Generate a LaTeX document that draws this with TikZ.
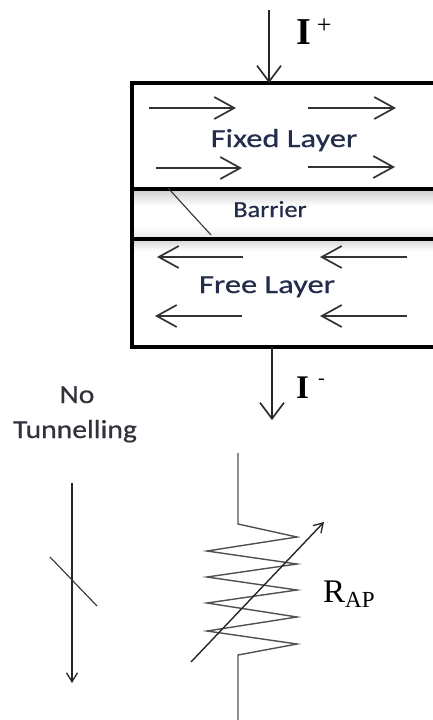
\documentclass[tikz,border=0pt]{standalone}
\usepackage{fontspec}
\setmainfont{Liberation Serif}
\newfontfamily\calfont[FakeStretch=1.25,FakeBold=0.6]{Carlito}
\newfontfamily\calfontb[FakeStretch=1.14,FakeBold=0.6]{Carlito}
\usetikzlibrary{arrows.meta}
\definecolor{layertext}{RGB}{35,45,75}
\definecolor{notext}{RGB}{50,50,60}
\definecolor{resgray}{RGB}{80,80,80}
\begin{document}
\begin{tikzpicture}[x=1pt,y=-1pt,
  boxline/.style={line width=4pt,draw=black},
  magarrow/.style={line width=1.7pt,draw=black!80,-{Straight Barb[length=20pt,width=22pt,line width=1.7pt]}},
  curarrow/.style={line width=1.6pt,draw=black!85,-{Straight Barb[length=16pt,width=24pt,line width=1.6pt]}},
  smallarrow/.style={line width=1.3pt,draw=black!85,-{Straight Barb[length=9pt,width=11pt,line width=1.3pt]}},
  thinline/.style={line width=1.1pt,draw=black!80},
  resline/.style={line width=1.4pt,draw=resgray,line join=miter},
  layerlabel/.style={font=\calfont\fontsize{26}{26}\selectfont,text=layertext,anchor=base,inner sep=0pt},
  barlabel/.style={font=\calfontb\fontsize{23}{23}\selectfont,text=layertext,anchor=base,inner sep=0pt},
  nolabel/.style={font=\calfontb\fontsize{26}{26}\selectfont,text=notext,anchor=base,inner sep=0pt},
  curlabel/.style={anchor=base west,inner sep=0pt,text=black}]
\useasboundingbox (0,0) rectangle (433,720);
\clip (0,0) rectangle (433,720);
% shading of the barrier and under the layer lines
\shade[top color=gray!40,bottom color=white] (132,189) rectangle (445,206);
\shade[top color=white,bottom color=gray!18] (132,226) rectangle (445,239);
\shade[top color=gray!35,bottom color=white] (132,239) rectangle (445,251);
% stack
\draw[boxline] (132,83) rectangle (445,347);
\draw[boxline] (132,189) -- (445,189);
\draw[boxline] (132,239) -- (445,239);
\draw[thinline] (168,188) -- (211,235);
% coordinates
\coordinate (ta) at (269,10);
\coordinate (tb) at (269,83);
\coordinate (ba) at (272,347);
\coordinate (bb) at (272,420);
\coordinate (f1a) at (149,108); \coordinate (f1b) at (236,108);
\coordinate (f2a) at (308,108); \coordinate (f2b) at (396,108);
\coordinate (f3a) at (156,168); \coordinate (f3b) at (242,168);
\coordinate (f4a) at (308,167); \coordinate (f4b) at (395,167);
\coordinate (r1a) at (243,257); \coordinate (r1b) at (157,257);
\coordinate (r2a) at (407,257); \coordinate (r2b) at (320,257);
\coordinate (r3a) at (242,316); \coordinate (r3b) at (155,316);
\coordinate (r4a) at (407,316); \coordinate (r4b) at (320,316);
\coordinate (na) at (72,483); \coordinate (nb) at (72,683);
\coordinate (ns1) at (50,557); \coordinate (ns2) at (97,606);
\coordinate (va) at (191,662); \coordinate (vb) at (324,522);
% arrows
\draw[curarrow] (ta) -- (tb);
\draw[curarrow] (ba) -- (bb);
\draw[magarrow] (f1a) -- (f1b);
\draw[magarrow] (f2a) -- (f2b);
\draw[magarrow] (f3a) -- (f3b);
\draw[magarrow] (f4a) -- (f4b);
\draw[magarrow] (r1a) -- (r1b);
\draw[magarrow] (r2a) -- (r2b);
\draw[magarrow] (r3a) -- (r3b);
\draw[magarrow] (r4a) -- (r4b);
% labels
\node[layerlabel] (fixed) at (284,147) {Fixed Layer};
\node[barlabel] (barrier) at (270,217) {Barrier};
\node[layerlabel] (free) at (267,293) {Free Layer};
\node[curlabel] (iplus) at (296,44) {\fontsize{38}{38}\selectfont\bfseries I\hspace{6pt}\raisebox{11pt}{\fontsize{26}{26}\selectfont\mdseries +}};
\node[curlabel] (iminus) at (296,398) {\fontsize{33}{33}\selectfont\bfseries I\hspace{9pt}\raisebox{14pt}{\fontsize{20}{20}\selectfont\mdseries -}};
\node[nolabel] (no) at (77,403) {No};
\node[nolabel] (tunn) at (75,438) {Tunnelling};
\node[curlabel] (rap) at (323,602) {\fontsize{33}{33}\selectfont R\raisebox{-5pt}{\fontsize{23}{23}\selectfont AP}};
% no tunnelling arrow
\draw[smallarrow] (na) -- (nb);
\draw[thinline] (ns1) -- (ns2);
% resistor
\draw[resline] (238,453) -- (238,524) -- (297,537) -- (207,551) -- (297,564) -- (207,577)
  -- (297,590) -- (207,603) -- (297,617) -- (207,631) -- (297,644) -- (238,655) -- (238,725);
\draw[smallarrow,line width=1.4pt] (va) -- (vb);
\end{tikzpicture}
\end{document}
